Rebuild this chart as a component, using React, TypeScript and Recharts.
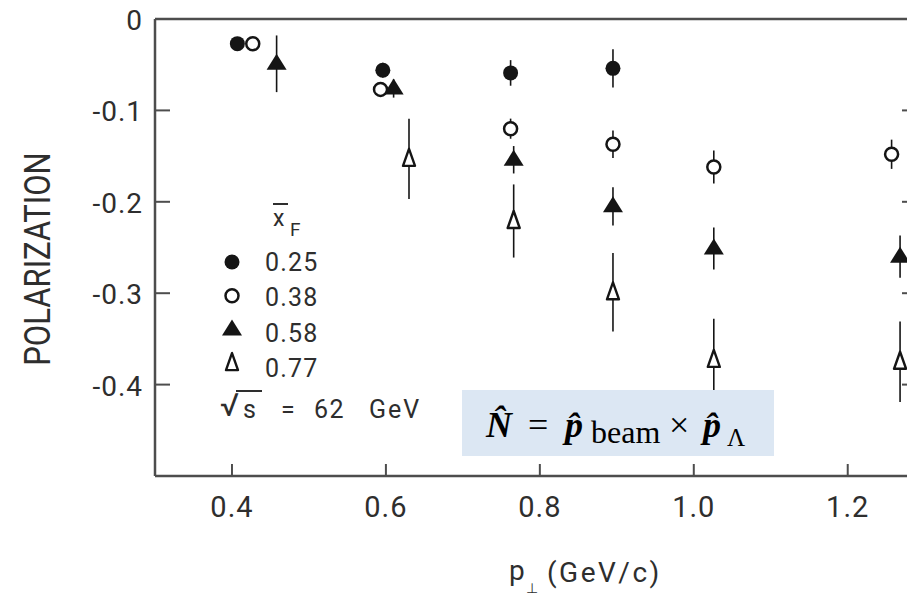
import { ComposedChart, Scatter, XAxis, YAxis, ErrorBar } from 'recharts';

// Lambda polarization vs p_T, one series per mean x_F bin
const ptA = [0.407, 0.596, 0.762, 0.895];
const polA = [-0.027, -0.056, -0.059, -0.054];
const errA = [0.006, 0.008, 0.014, 0.021];

const ptB = [0.427, 0.593, 0.762, 0.895, 1.026, 1.257];
const polB = [-0.027, -0.077, -0.12, -0.137, -0.162, -0.148];
const errB = [0.006, 0.008, 0.011, 0.015, 0.018, 0.016];

const ptC = [0.458, 0.61, 0.766, 0.895, 1.026, 1.268];
const polC = [-0.049, -0.076, -0.154, -0.205, -0.251, -0.26];
const errC = [0.031, 0.01, 0.015, 0.021, 0.023, 0.023];

const ptD = [0.63, 0.766, 0.895, 1.026, 1.268];
const polD = [-0.153, -0.221, -0.299, -0.373, -0.375];
const errD = [0.044, 0.04, 0.043, 0.045, 0.044];

const xfLabels = ['0.25', '0.38', '0.58', '0.77'];
const ptTicks = [0.4, 0.6, 0.8, 1.0, 1.2];
const polTicks = [0, -0.1, -0.2, -0.3, -0.4];

const rows = (xs: number[], ys: number[], es: number[]) =>
  xs.map((x, i) => ({ x, y: ys[i], err: es[i] }));

const INK = '#151515';
const TEXT = '#2e2e2e';
const AXIS = '#4d4d4d';
const SANS = 'Roboto, "DejaVu Sans", sans-serif';

type Kind = 'dot' | 'ring' | 'tri' | 'hollowTri';
const kinds: Kind[] = ['dot', 'ring', 'tri', 'hollowTri'];

function Marker({ kind, cx, cy }: { kind: Kind; cx: number; cy: number }) {
  if (kind === 'dot') return <circle cx={cx} cy={cy} r={7.5} fill={INK} />;
  if (kind === 'ring')
    return <circle cx={cx} cy={cy} r={6.5} fill="#fff" stroke={INK} strokeWidth={2.5} />;
  if (kind === 'tri')
    return <polygon points={`${cx},${cy - 10} ${cx - 10},${cy + 6} ${cx + 10},${cy + 6}`} fill={INK} />;
  return (
    <polygon
      points={`${cx},${cy - 10} ${cx - 6},${cy + 7} ${cx + 6},${cy + 7}`}
      fill="#fff"
      stroke={INK}
      strokeWidth={2.4}
      strokeLinejoin="round"
    />
  );
}

function Txt({ x, y, size, anchor = 'start', spacing = 0, children }: any) {
  return (
    <text
      x={x}
      y={y}
      fontFamily={SANS}
      fontSize={size}
      textAnchor={anchor}
      letterSpacing={spacing}
      fill={TEXT}
    >
      {children}
    </text>
  );
}

const fmtPol = (v: number) => (v === 0 ? '0' : v.toFixed(1));

const BottomTick = ({ x, y, payload }: any) => (
  <g>
    <line x1={x} x2={x} y1={y} y2={y - 12} stroke={AXIS} strokeWidth={2} />
    <Txt x={x} y={y + 41} size={29} anchor="middle" spacing={1}>{payload.value.toFixed(1)}</Txt>
  </g>
);

const TopTick = ({ x, y }: any) => (
  <line x1={x} x2={x} y1={y} y2={y + 12} stroke={AXIS} strokeWidth={2} />
);

const LeftTick = ({ x, y, payload }: any) => (
  <g>
    <line x1={x} x2={x + 15} y1={y} y2={y} stroke={AXIS} strokeWidth={2} />
    <Txt x={x - 12} y={y + 11} size={28} anchor="end" spacing={1}>{fmtPol(payload.value)}</Txt>
  </g>
);

const RightTick = ({ x, y }: any) => (
  <line x1={x} x2={x - 15} y1={y} y2={y} stroke={AXIS} strokeWidth={2} />
);

const series = [
  { name: xfLabels[0], data: rows(ptA, polA, errA), kind: kinds[0] },
  { name: xfLabels[1], data: rows(ptB, polB, errB), kind: kinds[1] },
  { name: xfLabels[2], data: rows(ptC, polC, errC), kind: kinds[2] },
  { name: xfLabels[3], data: rows(ptD, polD, errD), kind: kinds[3] },
];

const axisLine = { stroke: AXIS, strokeWidth: 2.5 };

export default function App() {
  return (
    <div
      style={{
        position: 'absolute',
        left: 0,
        top: 0,
        width: 907,
        height: 598,
        overflow: 'hidden',
        background: '#fff',
      }}
    >
      <ComposedChart width={930} height={598} margin={{ top: 9, right: 3, bottom: 82, left: 75 }}>
        <XAxis
          xAxisId="b"
          type="number"
          dataKey="x"
          domain={[0.3, 1.29]}
          ticks={ptTicks}
          allowDataOverflow
          height={40}
          axisLine={axisLine}
          tickLine={false}
          tickSize={0}
          tickMargin={0}
          tick={BottomTick}
        />
        <XAxis
          xAxisId="t"
          orientation="top"
          type="number"
          domain={[0.3, 1.29]}
          ticks={ptTicks}
          allowDataOverflow
          height={10}
          axisLine={axisLine}
          tickLine={false}
          tickSize={0}
          tickMargin={0}
          tick={TopTick}
        />
        <YAxis
          yAxisId="l"
          type="number"
          dataKey="y"
          domain={[-0.5, 0]}
          ticks={polTicks}
          allowDataOverflow
          width={80}
          axisLine={axisLine}
          tickLine={false}
          tickSize={0}
          tickMargin={0}
          tick={LeftTick}
        />
        <YAxis
          yAxisId="r"
          orientation="right"
          type="number"
          domain={[-0.5, 0]}
          ticks={polTicks}
          allowDataOverflow
          width={10}
          axisLine={axisLine}
          tickLine={false}
          tickSize={0}
          tickMargin={0}
          tick={RightTick}
        />
        {series.map((s) => (
          <Scatter
            key={s.name}
            name={s.name}
            data={s.data}
            xAxisId="b"
            yAxisId="l"
            dataKey="y"
            isAnimationActive={false}
            shape={(p: any) => <Marker kind={s.kind} cx={p.cx} cy={p.cy} />}
          >
            <ErrorBar
              dataKey="err"
              direction="y"
              width={0}
              stroke={INK}
              strokeWidth={1.6}
              isAnimationActive={false}
            />
          </Scatter>
        ))}
      </ComposedChart>

      <svg
        width={907}
        height={598}
        style={{ position: 'absolute', left: 0, top: 0, pointerEvents: 'none' }}
      >
        {/* axis titles */}
        <text
          transform="translate(50,259) rotate(-90) scale(0.84,1)"
          fontFamily={SANS}
          fontSize={37}
          textAnchor="middle"
          fill={TEXT}
        >
          POLARIZATION
        </text>
        <Txt x={509} y={580} size={28}>p</Txt>
        <Txt x={526} y={593} size={14}>⊥</Txt>
        <Txt x={547} y={582} size={28} spacing={2.5}>(GeV/c)</Txt>

        {/* x_F legend */}
        <line x1={273} x2={288} y1={204} y2={204} stroke={TEXT} strokeWidth={2} />
        <Txt x={273} y={226} size={23}>x</Txt>
        <Txt x={290} y={236} size={19}>F</Txt>
        {kinds.map((k, i) => (
          <g key={k}>
            <Marker kind={k} cx={232} cy={262 + i * 33.7} />
            <Txt x={265} y={271 + i * 35.3} size={25} spacing={1.2}>{xfLabels[i]}</Txt>
          </g>
        ))}
        <Txt x={220} y={416} size={32}>√</Txt>
        <line x1={236} x2={262} y1={391} y2={391} stroke={TEXT} strokeWidth={2} />
        <Txt x={243} y={418} size={25}>s</Txt>
        <Txt x={281} y={418} size={25}>=</Txt>
        <Txt x={314} y={418} size={25} spacing={1.5}>62</Txt>
        <Txt x={369} y={418} size={25} spacing={2}>GeV</Txt>

        {/* normal vector definition */}
        <rect x={462} y={390} width={312} height={66} fill="#dce7f3" />
        <text fontFamily='"Liberation Serif", serif' fontSize={36} fill="#000">
          <tspan x={486} y={437} fontWeight="bold" fontStyle="italic">N̂</tspan>
          <tspan x={528} y={437}>=</tspan>
          <tspan x={565} y={437} fontWeight="bold" fontStyle="italic">p̂</tspan>
          <tspan x={591} y={443} fontSize={32}>beam</tspan>
          <tspan x={669} y={437}>×</tspan>
          <tspan x={703} y={437} fontWeight="bold" fontStyle="italic">p̂</tspan>
          <tspan x={727} y={446} fontSize={25}>Λ</tspan>
        </text>
      </svg>
    </div>
  );
}
